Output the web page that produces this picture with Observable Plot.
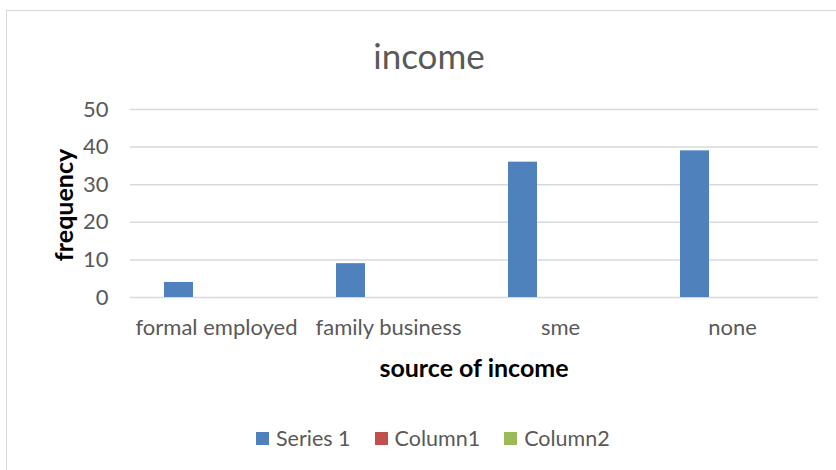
<!DOCTYPE html>
<html><head><meta charset="utf-8">
<script src="https://cdn.jsdelivr.net/npm/d3@7"></script>
<script src="https://cdn.jsdelivr.net/npm/@observablehq/plot@0.6"></script>
<style>
body{margin:0;background:#fff;}
#wrap{position:relative;width:836px;height:470px;overflow:hidden;font-family:Lato,"Open Sans",sans-serif;}
#frame{position:absolute;left:6px;top:10px;width:850px;height:480px;border:1px solid #d9d9d9;box-sizing:border-box;}
#title{position:absolute;top:34px;left:0;width:858px;text-align:center;font-size:35px;color:#595959;line-height:42px;}
#plot{position:absolute;left:0;top:0;}
#plot text{font-size:22px;}
#ylab{position:absolute;left:63px;top:205px;transform:translate(-50%,-50%) rotate(-90deg);font-size:25px;font-weight:bold;color:#000;white-space:nowrap;line-height:28px;}
#xlab{position:absolute;left:0;width:948px;top:353px;text-align:center;font-size:25px;font-weight:bold;color:#000;line-height:28px;}
#legend{position:absolute;left:256px;top:426px;display:flex;align-items:center;font-size:21.5px;color:#595959;line-height:24px;}
.item{display:flex;align-items:center;margin-right:24px;}
.sw{width:13px;height:13px;margin-right:7px;}
</style></head>
<body><div id="wrap">
<div id="frame"></div>
<div id="title">income</div>
<div id="plot"></div>
<div id="ylab">frequency</div>
<div id="xlab">source of income</div>
<div id="legend"></div>
</div>
<script>
const categories = ["formal employed", "family business", "sme", "none"];
const seriesNames = ["Series 1", "Column1", "Column2"];
const series1 = [4, 9, 36, 39];
const column1 = [0, 0, 0, 0];
const column2 = [0, 0, 0, 0];
const yTicks = [0, 10, 20, 30, 40, 50];
const colors = ["#4f81bd", "#c0504d", "#9bbb59"];

const seriesValues = [series1, column1, column2];
const rows = [];
categories.forEach((c, i) => seriesNames.forEach((s, j) => rows.push({category: c, series: s, value: seriesValues[j][i]})));

const chart = Plot.plot({
  width: 836, height: 400,
  marginLeft: 130, marginRight: 18, marginTop: 109, marginBottom: 103,
  style: {fontFamily: "Lato, 'Open Sans', sans-serif", fontSize: "22px", color: "#595959", background: "transparent", overflow: "visible"},
  y: {domain: [0, 50], ticks: yTicks, tickSize: 0, tickPadding: 22, label: null},
  fx: {domain: categories, padding: 0, tickSize: 0, tickPadding: 22, label: null, axis: "bottom"},
  x: {domain: seriesNames, paddingInner: 0.204, paddingOuter: 0.883, axis: null},
  color: {domain: seriesNames, range: colors},
  marks: [
    Plot.ruleY(yTicks, {stroke: "#d9d9d9", strokeWidth: 1.5}),
    Plot.barY(rows, {fx: "category", x: "series", y: "value", fill: "series"})
  ]
});
document.getElementById("plot").appendChild(chart);

const legend = document.getElementById("legend");
seriesNames.forEach((s, i) => {
  const it = document.createElement("div");
  it.className = "item";
  it.innerHTML = `<div class="sw" style="background:${colors[i]}"></div><span>${s}</span>`;
  legend.appendChild(it);
});
</script>
</body></html>
